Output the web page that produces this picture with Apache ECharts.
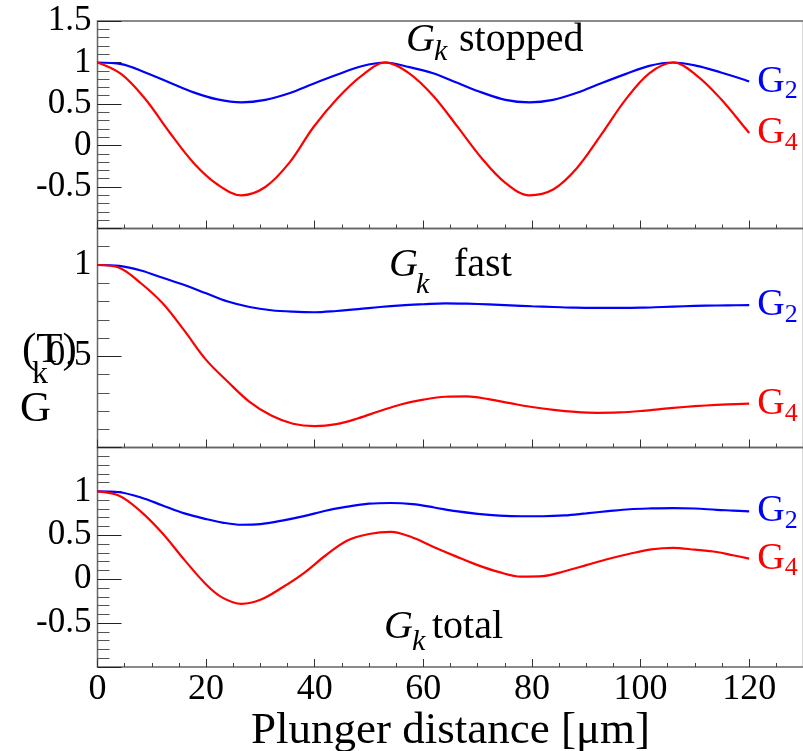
<!DOCTYPE html>
<html>
<head>
<meta charset="utf-8">
<script src="https://cdn.jsdelivr.net/npm/echarts@6/dist/echarts.min.js"></script>
<style>
html, body { margin: 0; padding: 0; background: #fff; }
#chart { width: 803px; height: 751px; }
</style>
</head>
<body>
<div id="chart"></div>
<script>
const serif = "'Liberation Serif', 'Times New Roman', serif";

// G_k stopped
const xStopped = [0, 4.4, 8.8, 13.25, 17.7, 22.1, 26.5, 30.9, 35.3, 39.75, 44.2, 48.6, 53, 57.4, 61.8, 66.25, 70.7, 75.1, 79.5, 83.9, 88.3, 92.75, 97.2, 101.6, 106, 110.4, 114.8, 119.25, 120];
const g2Stopped = [1.00, 0.98, 0.88, 0.76, 0.64, 0.555, 0.52, 0.55, 0.63, 0.745, 0.855, 0.955, 1.00, 0.945, 0.87, 0.755, 0.64, 0.55, 0.52, 0.55, 0.635, 0.75, 0.86, 0.96, 1.00, 0.96, 0.88, 0.79, 0.77];
const g4Stopped = [1.00, 0.86, 0.56, 0.16, -0.21, -0.47, -0.60, -0.50, -0.21, 0.22, 0.57, 0.84, 1.00, 0.87, 0.60, 0.23, -0.15, -0.45, -0.60, -0.53, -0.27, 0.13, 0.55, 0.87, 1.00, 0.84, 0.56, 0.21, 0.15];

// G_k fast
const xFast = [0, 4, 8, 12, 16, 20, 24, 28, 32, 36, 40, 44, 48, 52, 56, 60, 64, 68, 72, 76, 80, 84, 88, 92, 96, 100, 104, 108, 112, 116, 120];
const g2Fast = [1.00, 0.995, 0.97, 0.93, 0.89, 0.845, 0.80, 0.77, 0.752, 0.744, 0.741, 0.748, 0.758, 0.77, 0.779, 0.785, 0.79, 0.788, 0.784, 0.779, 0.774, 0.77, 0.766, 0.765, 0.765, 0.766, 0.77, 0.774, 0.777, 0.779, 0.78];
const g4Fast = [1.00, 0.985, 0.90, 0.79, 0.64, 0.48, 0.36, 0.25, 0.175, 0.13, 0.117, 0.128, 0.16, 0.20, 0.237, 0.262, 0.278, 0.28, 0.265, 0.243, 0.222, 0.206, 0.195, 0.19, 0.192, 0.20, 0.212, 0.222, 0.23, 0.236, 0.24];

// G_k total
const xTotal = [0, 4, 8, 12, 16, 20, 23, 26.5, 30, 34, 38, 42, 46, 50, 54, 58, 62, 66, 70, 74, 78, 82, 86, 90, 94, 98, 102, 106, 110, 114, 117, 120];
const g2Total = [1.00, 0.99, 0.93, 0.84, 0.75, 0.685, 0.645, 0.62, 0.627, 0.667, 0.718, 0.78, 0.826, 0.86, 0.868, 0.855, 0.817, 0.775, 0.745, 0.725, 0.717, 0.717, 0.726, 0.75, 0.775, 0.797, 0.806, 0.81, 0.805, 0.79, 0.782, 0.773];
const g4Total = [1.00, 0.95, 0.77, 0.52, 0.22, -0.06, -0.21, -0.28, -0.235, -0.095, 0.07, 0.27, 0.44, 0.515, 0.54, 0.475, 0.365, 0.26, 0.16, 0.08, 0.03, 0.035, 0.09, 0.16, 0.23, 0.29, 0.34, 0.357, 0.336, 0.31, 0.273, 0.235];

// tick labels shown on each panel
const yLabelsStopped = ['1.5', '1', '0.5', '0', '-0.5'];
const yLabelsFast = ['1', '0.5'];
const yLabelsTotal = ['1', '0.5', '0', '-0.5'];
const xLabels = ['0', '20', '40', '60', '80', '100', '120'];

const panelTitles = ['stopped', ' fast', 'total'];

const BLUE = '#0000ff';
const RED = '#ff0000';

function pairs(xs, ys) {
    return xs.map((x, i) => [x, ys[i]]);
}

const panels = [
    {top: 21, height: 207.5, min: -1, max: 1.5, labels: yLabelsStopped, g2: pairs(xStopped, g2Stopped), g4: pairs(xStopped, g4Stopped)},
    {top: 228.5, height: 219, min: 0, max: 1.2, labels: yLabelsFast, g2: pairs(xFast, g2Fast), g4: pairs(xFast, g4Fast)},
    {top: 447.5, height: 219.5, min: -1, max: 1.5, labels: yLabelsTotal, g2: pairs(xTotal, g2Total), g4: pairs(xTotal, g4Total)}
];

const grids = [], xAxes = [], yAxes = [], series = [];

panels.forEach(function (p, i) {
    const last = i === panels.length - 1;
    grids.push({
        left: 97.5, width: 706, top: p.top, height: p.height,
        show: true, borderColor: '#666', borderWidth: 1.5,
        outerBoundsMode: 'none'
    });
    // minor x ticks every 5
    xAxes.push({
        gridIndex: i, type: 'value', position: 'bottom', min: 0, max: 130, interval: 5,
        axisLine: {show: false, onZero: false}, splitLine: {show: false}, axisLabel: {show: false},
        axisTick: {inside: true, length: 4, lineStyle: {color: '#444'}}
    });
    // major x ticks every 20
    xAxes.push({
        gridIndex: i, type: 'value', position: 'bottom', min: 0, max: 130, interval: 20,
        axisLine: {show: false, onZero: false}, splitLine: {show: false},
        axisTick: {inside: true, length: 8, lineStyle: {color: '#333'}},
        axisLabel: {
            show: last, margin: 5, fontSize: 36, fontFamily: serif, color: '#000',
            formatter: v => xLabels.includes(String(v)) ? String(v) : ''
        },
        name: last ? 'Plunger distance [\u03bcm]' : '',
        nameLocation: 'middle', nameGap: 28,
        nameTextStyle: {fontSize: 45, fontFamily: serif, color: '#000'}
    });
    // minor y ticks every 0.1
    yAxes.push({
        gridIndex: i, type: 'value', position: 'left', min: p.min, max: p.max, interval: 0.1,
        axisLine: {show: false, onZero: false}, splitLine: {show: false}, axisLabel: {show: false},
        axisTick: {inside: true, length: 12, lineStyle: {color: '#555'}}
    });
    // major y ticks every 0.5
    yAxes.push({
        gridIndex: i, type: 'value', position: 'left', min: p.min, max: p.max, interval: 0.5,
        axisLine: {show: false, onZero: false}, splitLine: {show: false},
        axisTick: {inside: true, length: 24, lineStyle: {color: '#222'}},
        axisLabel: {
            margin: 6, fontSize: 35, fontFamily: serif, color: '#000',
            formatter: v => p.labels.includes(String(v)) ? String(v) : ''
        }
    });

    [['2', BLUE, p.g2], ['4', RED, p.g4]].forEach(function ([k, color, data]) {
        series.push({
            type: 'line', xAxisIndex: 2 * i + 1, yAxisIndex: 2 * i + 1,
            data: data, smooth: 0.35, showSymbol: false, silent: true,
            lineStyle: {color: color, width: 2.2}, itemStyle: {color: color},
            endLabel: {
                show: true, distance: 8,
                formatter: '{g|G}{s|' + k + '}',
                rich: {
                    g: {fontSize: 38, fontFamily: serif, color: color},
                    s: {fontSize: 26, fontFamily: serif, color: color, padding: [20, 0, 0, 0]}
                }
            }
        });
    });
});

// panel titles: italic G with subscript k, then the word
const titlePos = [
    {gx: 406, kx: 434, wx: 459, y: 40, ky: 52},
    {gx: 389, kx: 416, wx: 444, y: 265, ky: 285},
    {gx: 384, kx: 412, wx: 432, y: 627, ky: 642}
];
const graphic = [];
titlePos.forEach(function (t, i) {
    graphic.push({type: 'text', style: {x: t.gx, y: t.y, text: 'G', font: 'italic 40px ' + serif, fill: '#000', verticalAlign: 'middle'}});
    graphic.push({type: 'text', style: {x: t.kx, y: t.ky, text: 'k', font: 'italic 30px ' + serif, fill: '#000', verticalAlign: 'middle'}});
    graphic.push({type: 'text', style: {x: t.wx, y: t.y, text: panelTitles[i], font: '40px ' + serif, fill: '#000', verticalAlign: 'middle'}});
});

// y axis title, drawn unrotated and broken up as in the original
graphic.push({type: 'text', style: {x: 22, y: 351, text: '(T)', font: '43px ' + serif, fill: '#000', verticalAlign: 'middle'}});
graphic.push({type: 'text', style: {x: 32, y: 375, text: 'k', font: '32px ' + serif, fill: '#000', verticalAlign: 'middle'}});
graphic.push({type: 'text', style: {x: 20, y: 410, text: 'G', font: '43px ' + serif, fill: '#000', verticalAlign: 'middle'}});

const chart = echarts.init(document.getElementById('chart'));
chart.setOption({
    animation: false,
    grid: grids,
    xAxis: xAxes,
    yAxis: yAxes,
    series: series,
    graphic: graphic
});
</script>
</body>
</html>
